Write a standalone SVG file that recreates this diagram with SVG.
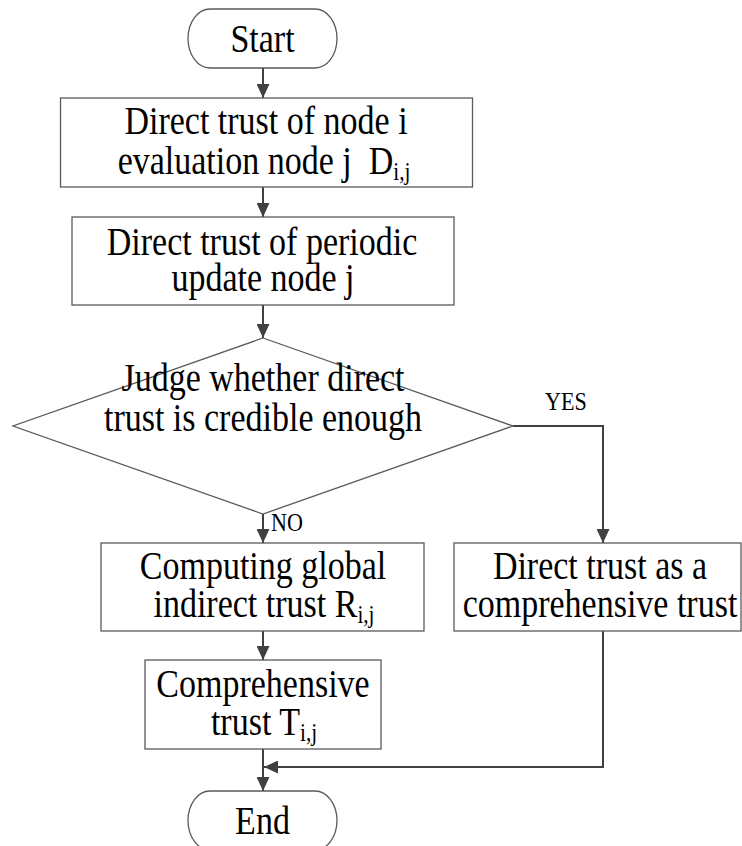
<svg xmlns="http://www.w3.org/2000/svg" width="742" height="846" viewBox="0 0 742 846">
  <style>
    .shape { fill: #ffffff; stroke: #5a5a5a; stroke-width: 1.3; }
    .conn { fill: none; stroke: #404040; stroke-width: 2; }
    .t { font-family: "Liberation Serif", "Times New Roman", serif; font-size: 40px; fill: #000; text-anchor: middle; }
    .lbl { font-family: "Liberation Serif", "Times New Roman", serif; font-size: 26px; fill: #000; }
    .sub { font-size: 25px; }
  </style>
  <defs>
    <marker id="arr" markerWidth="14" markerHeight="13" refX="14" refY="6.5" orient="auto" markerUnits="userSpaceOnUse">
      <path d="M0,0 L14,6.5 L0,13 z" fill="#404040"/>
    </marker>
  </defs>
  <rect width="742" height="846" fill="#ffffff"/>

  <g id="connectors">
    <line class="conn" x1="263" y1="68" x2="263" y2="98" marker-end="url(#arr)"/>
    <line class="conn" x1="263" y1="187" x2="263" y2="217" marker-end="url(#arr)"/>
    <line class="conn" x1="263" y1="305" x2="263" y2="338" marker-end="url(#arr)"/>
    <polyline class="conn" points="513,426 603,426 603,543" marker-end="url(#arr)"/>
    <line class="conn" x1="263" y1="514" x2="263" y2="543" marker-end="url(#arr)"/>
    <line class="conn" x1="263" y1="631" x2="263" y2="660" marker-end="url(#arr)"/>
    <line class="conn" x1="263" y1="749" x2="263" y2="791" marker-end="url(#arr)"/>
    <polyline class="conn" points="603,631 603,767 264,767" marker-end="url(#arr)"/>
    <text class="lbl" transform="matrix(0.85,0,0,1,545,0)" x="0" y="410">YES</text>
    <text class="lbl" transform="matrix(0.85,0,0,1,271,0)" x="0" y="531">NO</text>
  </g>

  <g id="start">
    <rect class="shape" x="188" y="9" width="149" height="59" rx="22" ry="29.5"/>
    <text class="t" transform="matrix(0.85,0,0,1,262.5,0)" x="0" y="52">Start</text>
  </g>

  <g id="direct-trust">
    <rect class="shape" x="60.5" y="98" width="412" height="89"/>
    <text class="t" transform="matrix(0.85,0,0,1,266,0)" x="0" y="134">Direct trust of node i</text>
    <text class="t" transform="matrix(0.85,0,0,1,264,0)" x="0" y="174">evaluation node j&#160; D<tspan class="sub" dy="6">i,j</tspan></text>
  </g>

  <g id="periodic-update">
    <rect class="shape" x="72" y="217" width="382" height="88"/>
    <text class="t" transform="matrix(0.85,0,0,1,262,0)" x="0" y="255">Direct trust of periodic</text>
    <text class="t" transform="matrix(0.85,0,0,1,263,0)" x="0" y="291">update node j</text>
  </g>

  <g id="judge">
    <polygon class="shape" points="263,338 513,426 263,514 13,426"/>
    <text class="t" transform="matrix(0.85,0,0,1,263,0)" x="0" y="391">Judge whether direct</text>
    <text class="t" transform="matrix(0.85,0,0,1,263,0)" x="0" y="431">trust is credible enough</text>
  </g>

  <g id="indirect">
    <rect class="shape" x="101" y="543" width="323" height="88"/>
    <text class="t" transform="matrix(0.85,0,0,1,263,0)" x="0" y="579">Computing global</text>
    <text class="t" transform="matrix(0.85,0,0,1,264,0)" x="0" y="617">indirect trust R<tspan class="sub" dy="6">i,j</tspan></text>
  </g>

  <g id="direct-as-comp">
    <rect class="shape" x="454" y="543" width="287" height="88"/>
    <text class="t" transform="matrix(0.85,0,0,1,600,0)" x="0" y="579">Direct trust as a</text>
    <text class="t" transform="matrix(0.85,0,0,1,600,0)" x="0" y="617">comprehensive trust</text>
  </g>

  <g id="comprehensive">
    <rect class="shape" x="145" y="660" width="236" height="89"/>
    <text class="t" transform="matrix(0.85,0,0,1,263,0)" x="0" y="697">Comprehensive</text>
    <text class="t" transform="matrix(0.85,0,0,1,264,0)" x="0" y="735">trust T<tspan class="sub" dy="6">i,j</tspan></text>
  </g>

  <g id="end">
    <rect class="shape" x="188" y="791" width="149" height="59" rx="22" ry="29.5"/>
    <text class="t" transform="matrix(0.85,0,0,1,262.5,0)" x="0" y="834">End</text>
  </g>
</svg>
